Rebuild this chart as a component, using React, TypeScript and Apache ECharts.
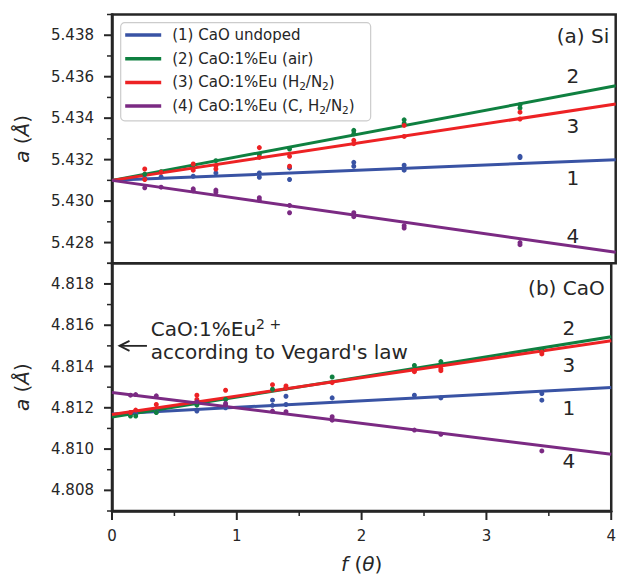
import { useEffect, useRef } from 'react';
import * as echarts from 'echarts';

const NAMES = ['(1) CaO undoped', '(2) CaO:1%Eu (air)', '(3) CaO:1%Eu (H2/N2)', '(4) CaO:1%Eu (C, H2/N2)'];
const COLORS = ['#3953a4', '#0f8040', '#ed2224', '#7b2a83'];
const TEXT = '#262626';
const FONT = 'DejaVu Sans';

const X_MIN = 0;
const X_MAX = 4;
const X_TICKS = [0, 1, 2, 3, 4];
const X_MINOR = [0.5, 1.5, 2.5, 3.5];

// linear fits (value at f=0 and f=4)
const SI_FIT_START = [5.431, 5.431, 5.431, 5.431];
const SI_FIT_END = [5.432, 5.43556, 5.43468, 5.42753];
const CAO_FIT_START = [4.8117, 4.81155, 4.81168, 4.81274];
const CAO_FIT_END = [4.81298, 4.81544, 4.81525, 4.80975];

// (a) Si reference: measured points [f, a]
const SI_UNDOPED = [
  [0.26, 5.4311], [0.39, 5.43117], [0.645, 5.4312], [0.825, 5.43136], [1.17, 5.43136], [1.17, 5.43115],
  [1.41, 5.4316], [1.41, 5.43104], [1.92, 5.43187], [1.92, 5.43168], [2.32, 5.43173], [2.32, 5.43149],
  [3.24, 5.43216], [3.24, 5.4321],
];
const SI_AIR = [
  [0.26, 5.4313], [0.39, 5.43142], [0.645, 5.43175], [0.825, 5.43195], [1.17, 5.43225], [1.41, 5.43251],
  [1.92, 5.43341], [1.92, 5.43325], [2.32, 5.43392], [2.32, 5.43375], [3.24, 5.43449], [3.24, 5.43465],
];
const SI_H2N2 = [
  [0.26, 5.43155], [0.26, 5.43104], [0.39, 5.43139], [0.645, 5.43179], [0.645, 5.43149], [0.825, 5.43155],
  [0.825, 5.4317], [1.17, 5.43258], [1.17, 5.43211], [1.41, 5.43216], [1.41, 5.43168], [1.92, 5.43293],
  [1.92, 5.43277], [2.32, 5.43365], [2.32, 5.43312], [3.24, 5.43429], [3.24, 5.43396],
];
const SI_C_H2N2 = [
  [0.26, 5.43064], [0.39, 5.43067], [0.645, 5.43059], [0.645, 5.4305], [0.825, 5.43053], [0.825, 5.43043],
  [1.17, 5.43016], [1.17, 5.43005], [1.41, 5.42979], [1.41, 5.42944], [1.92, 5.42944], [1.92, 5.42925],
  [2.32, 5.42881], [2.32, 5.4287], [3.24, 5.428], [3.24, 5.4279],
];

// (b) CaO
const CAO_UNDOPED = [
  [0.148, 4.81175], [0.19, 4.81172], [0.355, 4.8118], [0.68, 4.81184], [0.91, 4.812], [1.286, 4.81237],
  [1.286, 4.81212], [1.394, 4.81256], [1.394, 4.81216], [1.764, 4.81248], [2.423, 4.81261], [2.635, 4.81248],
  [3.444, 4.81269], [3.444, 4.81237],
];
const CAO_AIR = [
  [0.148, 4.8116], [0.19, 4.8116], [0.355, 4.81177], [0.68, 4.81213], [0.91, 4.8124], [1.286, 4.8129],
  [1.394, 4.81295], [1.764, 4.81349], [2.423, 4.81405], [2.635, 4.81424], [3.444, 4.81478],
];
const CAO_H2N2 = [
  [0.148, 4.81177], [0.19, 4.81189], [0.355, 4.81216], [0.68, 4.81261], [0.68, 4.8124], [0.91, 4.81285],
  [1.286, 4.81312], [1.394, 4.81306], [1.394, 4.81295], [1.764, 4.81322], [2.423, 4.81381], [2.423, 4.81375],
  [2.635, 4.81389], [2.635, 4.8138], [3.444, 4.81461], [3.444, 4.8147],
];
const CAO_C_H2N2 = [
  [0.148, 4.81261], [0.19, 4.81264], [0.355, 4.81258], [0.68, 4.81229], [0.91, 4.81213], [0.91, 4.81221],
  [1.286, 4.81184], [1.394, 4.81181], [1.764, 4.81157], [1.764, 4.8114], [2.423, 4.81092], [2.635, 4.81072],
  [3.444, 4.80991],
];

const SI_POINTS = [SI_UNDOPED, SI_AIR, SI_H2N2, SI_C_H2N2];
const CAO_POINTS = [CAO_UNDOPED, CAO_AIR, CAO_H2N2, CAO_C_H2N2];

const SI_RANGE = [5.427, 5.439];
const SI_TICKS = [5.428, 5.43, 5.432, 5.434, 5.436, 5.438];
const SI_MINOR = [5.427, 5.429, 5.431, 5.433, 5.435, 5.437, 5.439];
const CAO_RANGE = [4.807, 4.819];
const CAO_TICKS = [4.808, 4.81, 4.812, 4.814, 4.816, 4.818];
const CAO_MINOR = [4.807, 4.809, 4.811, 4.813, 4.815, 4.817, 4.819];

const SI_CURVE_LABELS = [['1', 3.66, 5.43113], ['2', 3.66, 5.43604], ['3', 3.66, 5.43363], ['4', 3.66, 5.4283]];
const CAO_CURVE_LABELS = [['1', 3.66, 4.81201], ['2', 3.66, 4.81586], ['3', 3.66, 4.81408], ['4', 3.66, 4.80942]];

const VEGARD_A = 4.815;
const ARROW_TIP_F = 0.06;
const ARROW_TAIL_F = 0.28;
const ANNOT_TEXT_F = 0.31;

const MAJOR_LEN = 8;
const MINOR_LEN = 5;

export default function App() {
  const ref = useRef<HTMLDivElement>(null);
  useEffect(() => {
    if (!ref.current) return;
    const chart = echarts.init(ref.current, null, { renderer: 'svg' });

    const axisLine = { show: true, onZero: false, lineStyle: { color: TEXT, width: 2.5 } };
    const yName = {
      name: '{i|a} ({i|Å})',
      nameLocation: 'middle' as const,
      nameGap: 80,
      nameTextStyle: { fontSize: 20, color: TEXT, fontFamily: FONT, rich: { i: { fontStyle: 'italic', fontSize: 20, color: TEXT, fontFamily: FONT } } },
    };
    const yAxisFor = (grid: number, range: number[], ticks: number[]) => ({
      type: 'value', gridIndex: grid, position: 'left', offset: 0, min: range[0], max: range[1],
      axisLine,
      splitLine: { show: false },
      axisTick: { show: false },
      axisLabel: { show: true, customValues: ticks, margin: 18, fontSize: 15, color: TEXT, fontFamily: FONT, formatter: (v: number) => v.toFixed(3) },
      ...yName,
    });

    const series: any[] = [];
    NAMES.forEach((n, i) => {
      series.push({
        type: 'line', name: n, xAxisIndex: 0, yAxisIndex: 0, color: COLORS[i], symbol: 'none', z: 2,
        lineStyle: { width: 3, color: COLORS[i] },
        data: [[X_MIN, SI_FIT_START[i]], [X_MAX, SI_FIT_END[i]]],
      });
    });
    NAMES.forEach((n, i) => {
      series.push({
        type: 'line', name: n, xAxisIndex: 1, yAxisIndex: 1, color: COLORS[i], symbol: 'none', z: 2,
        lineStyle: { width: 3, color: COLORS[i] },
        data: [[X_MIN, CAO_FIT_START[i]], [X_MAX, CAO_FIT_END[i]]],
      });
    });
    SI_POINTS.forEach((pts, i) => {
      series.push({ type: 'scatter', name: 'si' + i, xAxisIndex: 0, yAxisIndex: 0, symbolSize: 5, z: 3, itemStyle: { color: COLORS[i], opacity: 1 }, data: pts });
    });
    CAO_POINTS.forEach((pts, i) => {
      series.push({ type: 'scatter', name: 'cao' + i, xAxisIndex: 1, yAxisIndex: 1, symbolSize: 5, z: 3, itemStyle: { color: COLORS[i], opacity: 1 }, data: pts });
    });
    const labelSeries = (xi: number, yi: number, arr: any[]) => ({
      type: 'scatter', name: 'lbl' + yi, xAxisIndex: xi, yAxisIndex: yi, symbolSize: 0, silent: true, z: 5,
      itemStyle: { opacity: 1 },
      label: { show: true, position: 'inside', formatter: '{b}', fontSize: 20, color: TEXT, opacity: 1, fontFamily: FONT },
      data: arr.map((d) => ({ name: d[0], value: [d[1], d[2]] })),
    });
    series.push(labelSeries(0, 0, SI_CURVE_LABELS));
    series.push(labelSeries(1, 1, CAO_CURVE_LABELS));

    const gridStyle = { show: true, borderWidth: 2.5, borderColor: TEXT, backgroundColor: 'transparent' };

    chart.setOption({
      animation: false,
      backgroundColor: '#ffffff',
      textStyle: { fontFamily: FONT },
      grid: [
        { left: 112, right: 3.3, top: 14.5, height: 248.8, ...gridStyle },
        { left: 112, right: 3.3, top: 263.3, height: 249.4, ...gridStyle },
      ],
      xAxis: [
        { type: 'value', gridIndex: 0, min: X_MIN, max: X_MAX, interval: 1, axisLine: { show: false }, axisTick: { show: false }, axisLabel: { show: false }, splitLine: { show: false } },
        {
          type: 'value', gridIndex: 1, min: X_MIN, max: X_MAX, interval: 1, axisLine, splitLine: { show: false },
          axisTick: { show: false },
          axisLabel: { show: true, customValues: X_TICKS, margin: 17, fontSize: 15, color: TEXT, fontFamily: FONT },
          name: '{i|f} ({i|θ})', nameLocation: 'middle', nameGap: 43,
          nameTextStyle: { fontSize: 20, color: TEXT, fontFamily: FONT, rich: { i: { fontStyle: 'italic', fontSize: 20, color: TEXT, fontFamily: FONT } } },
        },
      ],
      yAxis: [yAxisFor(0, SI_RANGE, SI_TICKS), yAxisFor(1, CAO_RANGE, CAO_TICKS)],
      legend: {
        show: true, orient: 'vertical', left: 120.7, top: 22.7,
        data: NAMES, icon: 'rect', itemWidth: 36, itemHeight: 3.5, itemGap: 5.7,
        padding: [3.3, 16, 5.7, 4.5],
        backgroundColor: 'rgba(255,255,255,0.8)', borderColor: '#cccccc', borderWidth: 1.2, borderRadius: 4,
        selectedMode: false,
        formatter: (name: string) => name.replace(/([HN])2/g, '$1{sub|2}'),
        textStyle: {
          color: TEXT, fontSize: 15, fontFamily: FONT, lineHeight: 18, padding: [0, 0, 0, 6],
          rich: { sub: { fontSize: 10.5, lineHeight: 12, verticalAlign: 'bottom', color: TEXT, fontFamily: FONT } },
        },
      },
      series,
    });

    // tick marks placed through the axes' own scales
    const ticks: any[] = [];
    const yTick = (axisIndex: number, vals: number[], len: number, w: number) => {
      const x0 = chart.convertToPixel({ xAxisIndex: axisIndex }, X_MIN) as number;
      vals.forEach((v) => {
        const y = chart.convertToPixel({ yAxisIndex: axisIndex }, v) as number;
        ticks.push({ type: 'line', z: 10, shape: { x1: x0 - len, y1: y, x2: x0, y2: y }, style: { stroke: TEXT, lineWidth: w } });
      });
    };
    yTick(0, SI_TICKS, MAJOR_LEN, 2);
    yTick(0, SI_MINOR, MINOR_LEN, 1.5);
    yTick(1, CAO_TICKS, MAJOR_LEN, 2);
    yTick(1, CAO_MINOR, MINOR_LEN, 1.5);
    const yBase = chart.convertToPixel({ yAxisIndex: 1 }, CAO_RANGE[0]) as number;
    const xTick = (vals: number[], len: number, w: number) => {
      vals.forEach((v) => {
        const x = chart.convertToPixel({ xAxisIndex: 1 }, v) as number;
        ticks.push({ type: 'line', z: 10, shape: { x1: x, y1: yBase, x2: x, y2: yBase + len }, style: { stroke: TEXT, lineWidth: w } });
      });
    };
    xTick(X_TICKS, MAJOR_LEN + 1, 2);
    xTick(X_MINOR, MINOR_LEN, 1.5);

    const tip = chart.convertToPixel({ seriesIndex: 4 }, [ARROW_TIP_F, VEGARD_A]) as number[];
    const tail = chart.convertToPixel({ seriesIndex: 4 }, [ARROW_TAIL_F, VEGARD_A]) as number[];
    const txt = chart.convertToPixel({ seriesIndex: 4 }, [ANNOT_TEXT_F, VEGARD_A]) as number[];
    const gTop = chart.convertToPixel({ seriesIndex: 0 }, [X_MAX, SI_RANGE[1]]) as number[];
    const gMid = chart.convertToPixel({ seriesIndex: 4 }, [X_MAX, CAO_RANGE[1]]) as number[];

    chart.setOption({
      graphic: [
        ...ticks,
        { type: 'line', shape: { x1: tip[0], y1: tip[1], x2: tail[0], y2: tail[1] }, style: { stroke: TEXT, lineWidth: 1.8 }, z: 10 },
        { type: 'polyline', shape: { points: [[tip[0] + 10, tip[1] - 5], [tip[0], tip[1]], [tip[0] + 10, tip[1] + 5]] }, style: { stroke: TEXT, lineWidth: 1.8, fill: null }, z: 10 },
        {
          type: 'text', x: txt[0], y: tip[1] - 28.5, z: 10,
          style: {
            text: '{n|CaO:1%Eu}{sup|2 +}\n{n|according to Vegard\'s law}',
            align: 'left', verticalAlign: 'top', fill: TEXT, fontFamily: FONT, fontSize: 20,
            rich: {
              n: { fontSize: 20, lineHeight: 23, fill: TEXT, fontFamily: FONT },
              sup: { fontSize: 14, lineHeight: 12, verticalAlign: 'top', fill: TEXT, fontFamily: FONT },
            },
          },
        },
        { type: 'text', x: gTop[0] - 6.5, y: gTop[1] + 21.5, z: 10, style: { text: '(a) Si', align: 'right', verticalAlign: 'middle', fill: TEXT, fontFamily: FONT, fontSize: 20 } },
        { type: 'text', x: gMid[0] - 6.5, y: gMid[1] + 24.5, z: 10, style: { text: '(b) CaO', align: 'right', verticalAlign: 'middle', fill: TEXT, fontFamily: FONT, fontSize: 20 } },
      ],
    });

    return () => chart.dispose();
  }, []);
  return <div ref={ref} style={{ position: 'fixed', left: 0, top: 0, width: 619, height: 575 }} />;
}
